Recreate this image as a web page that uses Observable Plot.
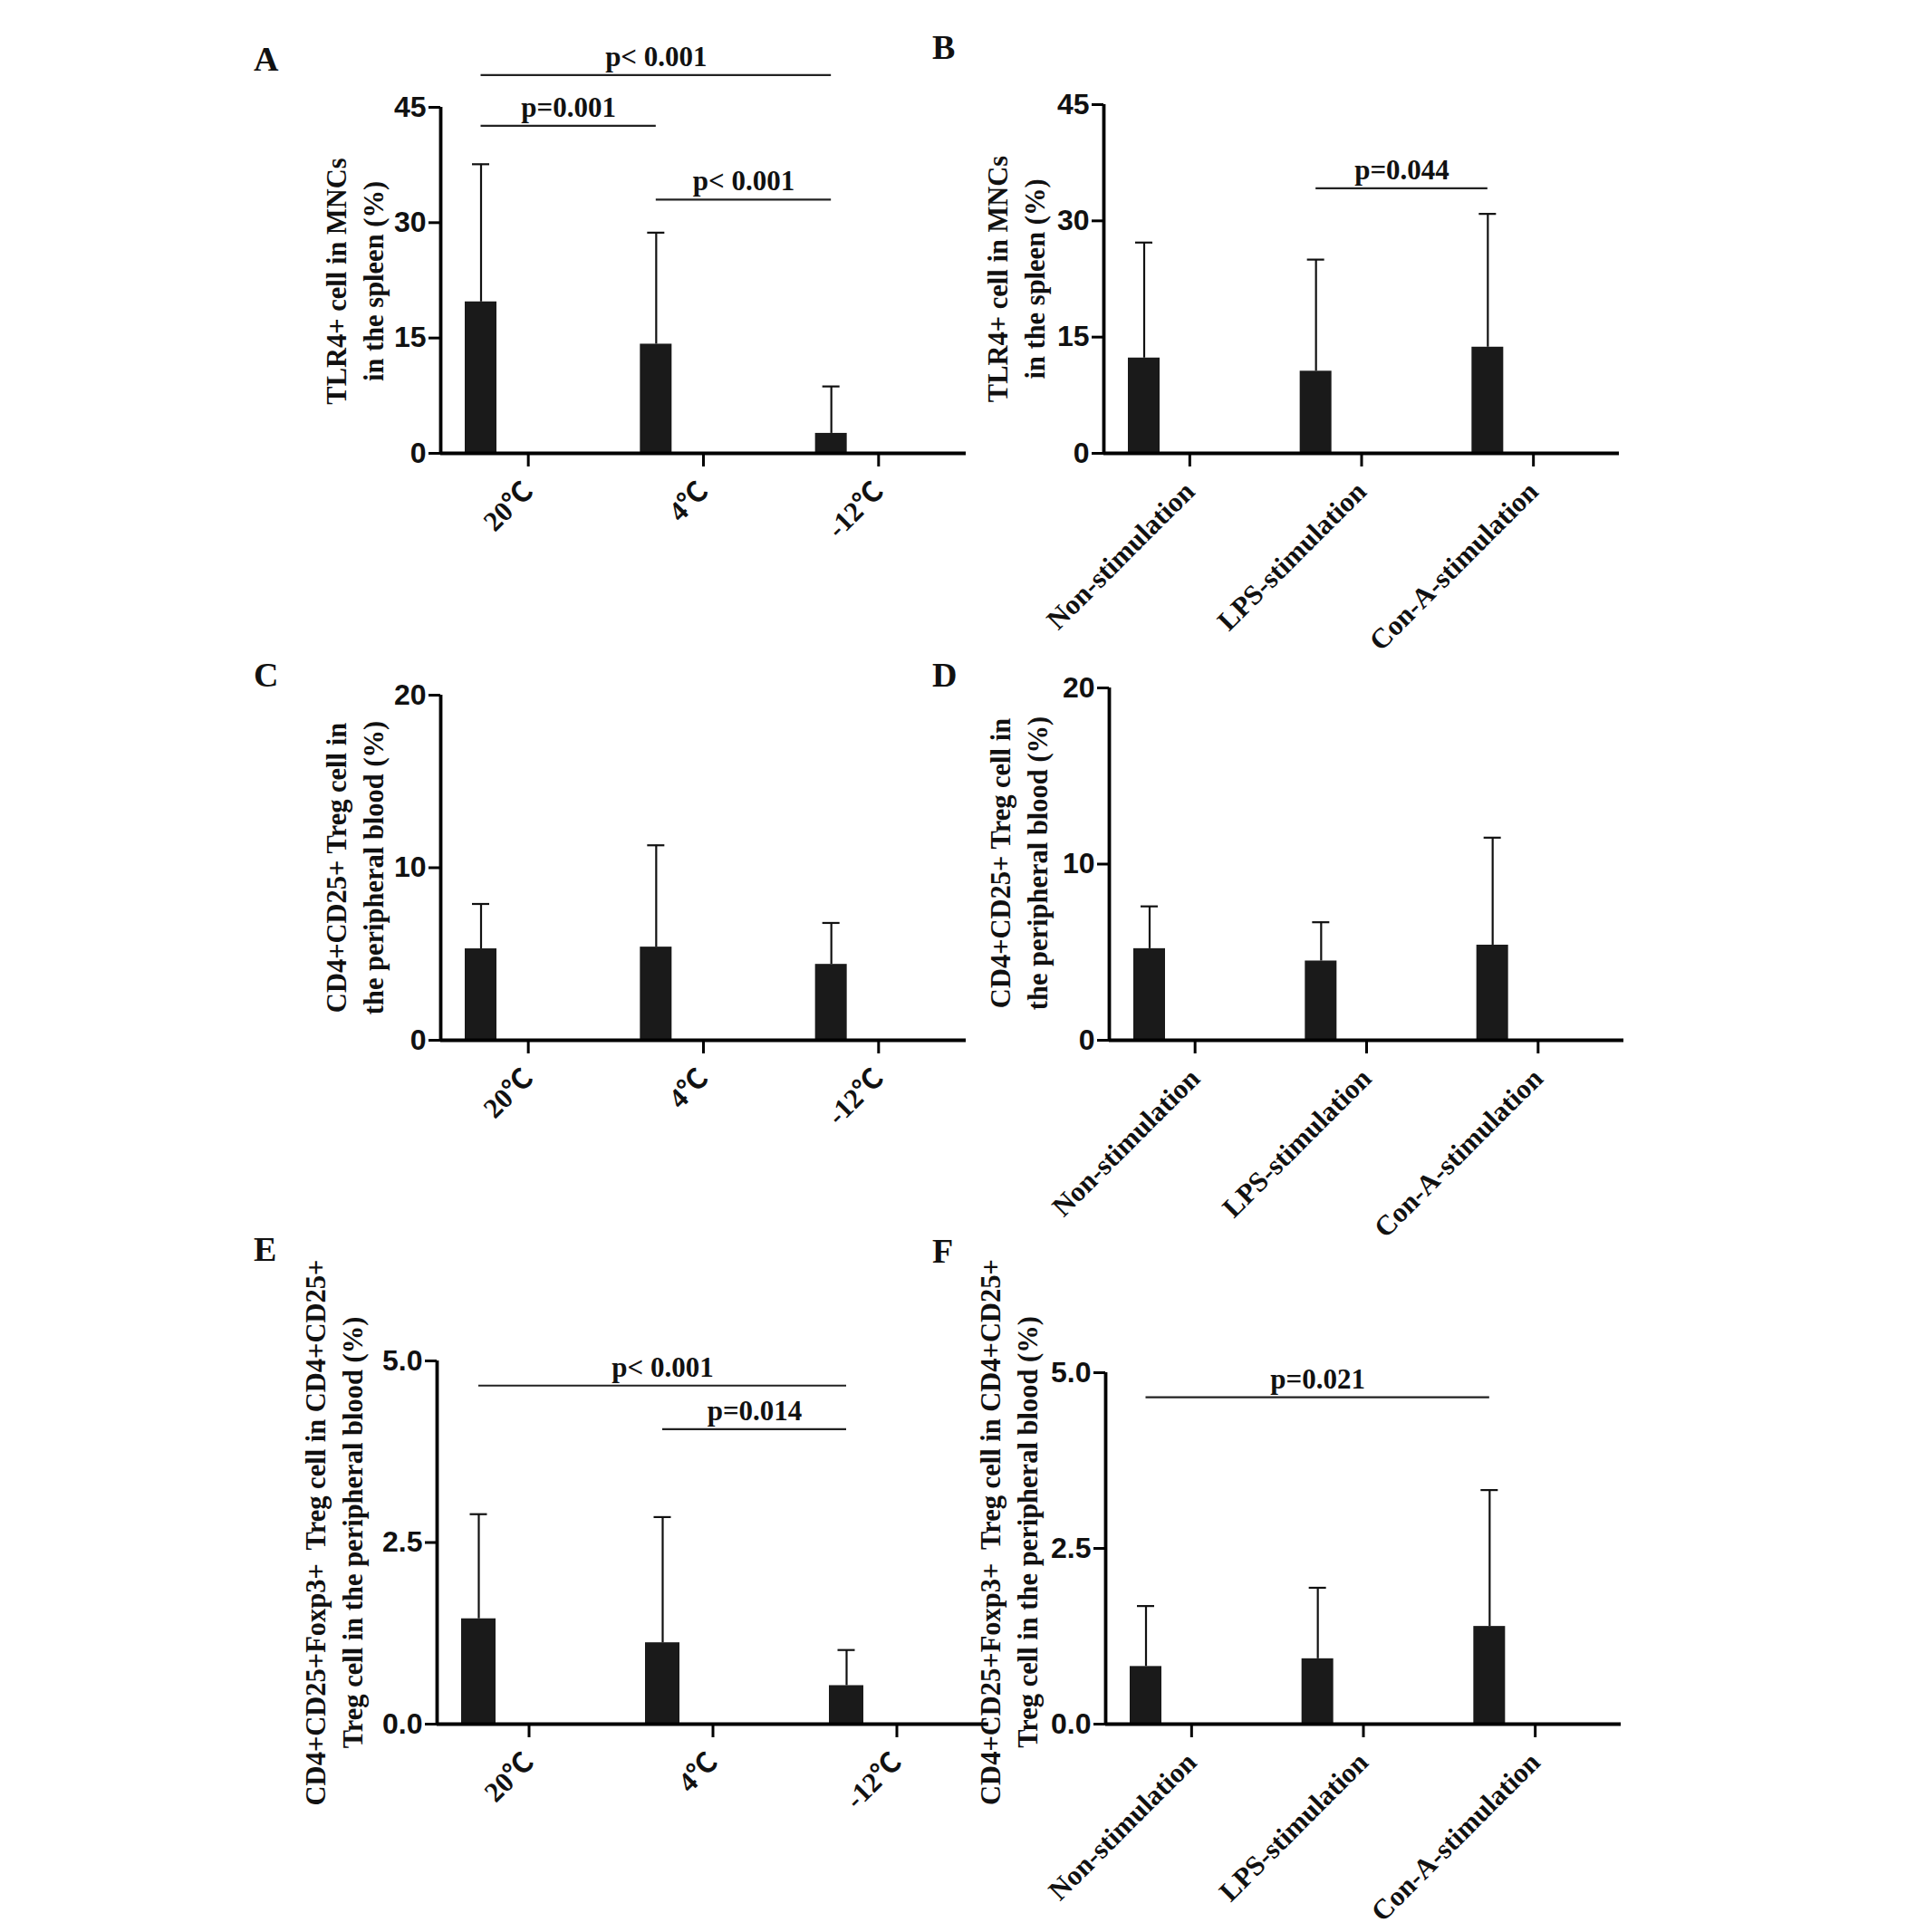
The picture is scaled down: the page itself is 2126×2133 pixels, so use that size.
<!DOCTYPE html>
<html><head><meta charset="utf-8">
<script src="https://cdn.jsdelivr.net/npm/d3@7"></script>
<script src="https://cdn.jsdelivr.net/npm/@observablehq/plot@0.6"></script>
<style>
html,body{margin:0;padding:0;background:#fff;}
#page{position:relative;width:2126px;height:2133px;background:#fff;overflow:hidden;}
#page svg{position:absolute;}
.plab{position:absolute;font-family:"Liberation Serif","Times New Roman",serif;font-weight:bold;font-size:38px;line-height:38px;color:#111;}
</style></head><body><div id="page"></div>
<script>
// ---------- data ----------
const tempCats = ["20℃", "4℃", "-12℃"];
const stimCats = ["Non-stimulation", "LPS-stimulation", "Con-A-stimulation"];

const aMean = [19.7, 14.2, 2.6];
const aSd   = [17.9, 14.5, 6.1];
const bMean = [12.3, 10.6, 13.7];
const bSd   = [14.9, 14.4, 17.2];
const cMean = [5.3, 5.4, 4.4];
const cSd   = [2.6, 5.9, 2.4];
const dMean = [5.2, 4.5, 5.4];
const dSd   = [2.4, 2.2, 6.1];
const eMean = [1.45, 1.12, 0.53];
const eSd   = [1.44, 1.73, 0.49];
const fMean = [0.82, 0.93, 1.39];
const fSd   = [0.86, 1.01, 1.94];

const ticks45 = [0, 15, 30, 45];
const ticks20 = [0, 10, 20];
const ticks5  = [0, 2.5, 5];

const aSigFrom = ["20℃", "20℃", "4℃"];
const aSigTo   = ["-12℃", "4℃", "-12℃"];
const aSigY    = [49.2, 42.6, 33.0];
const aSigText = ["p< 0.001", "p=0.001", "p< 0.001"];
const bSigFrom = ["LPS-stimulation"];
const bSigTo   = ["Con-A-stimulation"];
const bSigY    = [34.2];
const bSigText = ["p=0.044"];
const eSigFrom = ["20℃", "4℃"];
const eSigTo   = ["-12℃", "-12℃"];
const eSigY    = [4.66, 4.06];
const eSigText = ["p< 0.001", "p=0.014"];
const fSigFrom = ["Non-stimulation"];
const fSigTo   = ["Con-A-stimulation"];
const fSigY    = [4.65];
const fSigText = ["p=0.021"];

const titleTLR = "TLR4+ cell in MNCs\nin the spleen (%)";
const titleCD25 = "CD4+CD25+ Treg cell in\nthe peripheral blood (%)";
const titleFox = "CD4+CD25+Foxp3+  Treg cell in CD4+CD25+\nTreg cell in the peripheral blood (%)";

// ---------- layout ----------
const sans = '"Liberation Sans", Arial, Helvetica, sans-serif';
const serif = '"Liberation Serif", "Times New Roman", "Noto Sans CJK SC", serif';

const panels = [
  {id: "A", cats: tempCats, mean: aMean, sd: aSd, ticks: ticks45, fmt: d3.format("d"), dom: [0, 45], title: titleTLR, barW: 35,
   sig: [aSigFrom, aSigTo, aSigY, aSigText], frame: {l: 486, r: 1066, t: 118, b: 500}, box: {x: 260, y: 20, w: 825, h: 700}, tdx: -97.5, tdy: 1, lab: {x: 280, base: 78}},
  {id: "B", cats: stimCats, mean: bMean, sd: bSd, ticks: ticks45, fmt: d3.format("d"), dom: [0, 45], title: titleTLR, barW: 35,
   sig: [bSigFrom, bSigTo, bSigY, bSigText], frame: {l: 1218, r: 1787, t: 115, b: 500}, box: {x: 990, y: 20, w: 815, h: 700}, tdx: -99, tdy: 0, lab: {x: 1029, base: 65}},
  {id: "C", cats: tempCats, mean: cMean, sd: cSd, ticks: ticks20, fmt: d3.format("d"), dom: [0, 20], title: titleCD25, barW: 35,
   sig: [[], [], [], []], frame: {l: 486, r: 1066, t: 767, b: 1148}, box: {x: 260, y: 700, w: 825, h: 670}, tdx: -97.5, tdy: 0, lab: {x: 280, base: 758}},
  {id: "D", cats: stimCats, mean: dMean, sd: dSd, ticks: ticks20, fmt: d3.format("d"), dom: [0, 20], title: titleCD25, barW: 35,
   sig: [[], [], [], []], frame: {l: 1224, r: 1792, t: 759, b: 1148}, box: {x: 990, y: 700, w: 815, h: 670}, tdx: -102.5, tdy: -1, lab: {x: 1029, base: 758}},
  {id: "E", cats: tempCats, mean: eMean, sd: eSd, ticks: ticks5, fmt: d3.format(".1f"), dom: [0, 5], title: titleFox, barW: 38,
   sig: [eSigFrom, eSigTo, eSigY, eSigText], frame: {l: 482, r: 1091, t: 1502, b: 1903}, box: {x: 260, y: 1360, w: 845, h: 773}, tdx: -116, tdy: -11, lab: {x: 280, base: 1392}},
  {id: "F", cats: stimCats, mean: fMean, sd: fSd, ticks: ticks5, fmt: d3.format(".1f"), dom: [0, 5], title: titleFox, barW: 35,
   sig: [fSigFrom, fSigTo, fSigY, fSigText], frame: {l: 1220, r: 1789, t: 1515, b: 1903}, box: {x: 990, y: 1360, w: 815, h: 773}, tdx: -109.5, tdy: -18, lab: {x: 1029, base: 1394}}
];

const page = document.getElementById("page");

function draw(p) {
  const n = p.cats.length;
  const bw = (p.frame.r - p.frame.l) / n;      // pixels per category
  const u = 1 / bw;                            // category units per pixel
  const barL = 27, barW = p.barW, capHalf = 9.5;
  const center = i => i - 0.5 + (barL + barW / 2) * u;
  const rows = p.cats.map((c, i) => ({c, i, mean: p.mean[i], top: p.mean[i] + p.sd[i]}));
  const [sf, st, sy, stx] = p.sig;
  const sig = sf.map((f, k) => ({x1: center(p.cats.indexOf(f)), x2: center(p.cats.indexOf(st[k])), y: sy[k], label: stx[k]}));

  const ml = p.frame.l - p.box.x, mt = p.frame.t - p.box.y;
  const mr = p.box.x + p.box.w - p.frame.r, mb = p.box.y + p.box.h - p.frame.b;

  const svg = Plot.plot({
    width: p.box.w, height: p.box.h,
    marginLeft: ml, marginRight: mr, marginTop: mt, marginBottom: mb,
    style: {background: "transparent", overflow: "visible", color: "#111"},
    x: {type: "linear", domain: [-0.5, n - 0.5]},
    y: {domain: p.dom},
    marks: [
      Plot.rect(rows, {x1: d => d.i - 0.5 + barL * u, x2: d => d.i - 0.5 + (barL + barW) * u, y1: 0, y2: "mean", fill: "#1a1a1a"}),
      Plot.ruleX(rows, {x: d => center(d.i), y1: "mean", y2: "top", stroke: "#111", strokeWidth: 2.2}),
      Plot.ruleY(rows, {x1: d => center(d.i) - capHalf * u, x2: d => center(d.i) + capHalf * u, y: "top", stroke: "#111", strokeWidth: 2.2}),
      Plot.ruleX([-0.5], {y1: p.dom[0], y2: p.dom[1], stroke: "#000", strokeWidth: 3.8}),
      Plot.ruleY([0], {stroke: "#000", strokeWidth: 3.8}),
      Plot.axisY({ticks: p.ticks, tickFormat: p.fmt, tickSize: 13, tickPadding: 3, strokeWidth: 3, stroke: "#000",
                  fontSize: 32, fontWeight: "bold", fontFamily: sans, label: null}),
      Plot.axisX({ticks: p.cats.map((c, i) => i), tickFormat: i => p.cats[i], tickSize: 15, tickPadding: 22, tickRotate: -45,
                  strokeWidth: 3, stroke: "#000", fontSize: 31, fontWeight: "bold", fontFamily: serif, label: null}),
      Plot.ruleY(sig, {x1: "x1", x2: "x2", y: "y", stroke: "#222", strokeWidth: 2.2}),
      Plot.text(sig, {x: d => (d.x1 + d.x2) / 2, y: "y", text: "label", dy: -20, fontSize: 31, fontWeight: "bold", fontFamily: serif, fill: "#111"}),
      Plot.text([p.title], {text: d => d, frameAnchor: "left", rotate: -90, dx: p.tdx, dy: p.tdy, textAnchor: "middle", lineAnchor: "middle",
                            lineHeight: 1.35, fontSize: 30.5, fontWeight: "bold", fontFamily: serif, fill: "#111"})
    ]
  });
  svg.style.left = p.box.x + "px";
  svg.style.top = p.box.y + "px";
  page.appendChild(svg);

  const lab = document.createElement("div");
  lab.className = "plab";
  lab.textContent = p.id;
  lab.style.left = p.lab.x + "px";
  lab.style.top = (p.lab.base - 31.8) + "px";
  page.appendChild(lab);
}

panels.forEach(draw);
</script>
</body></html>
